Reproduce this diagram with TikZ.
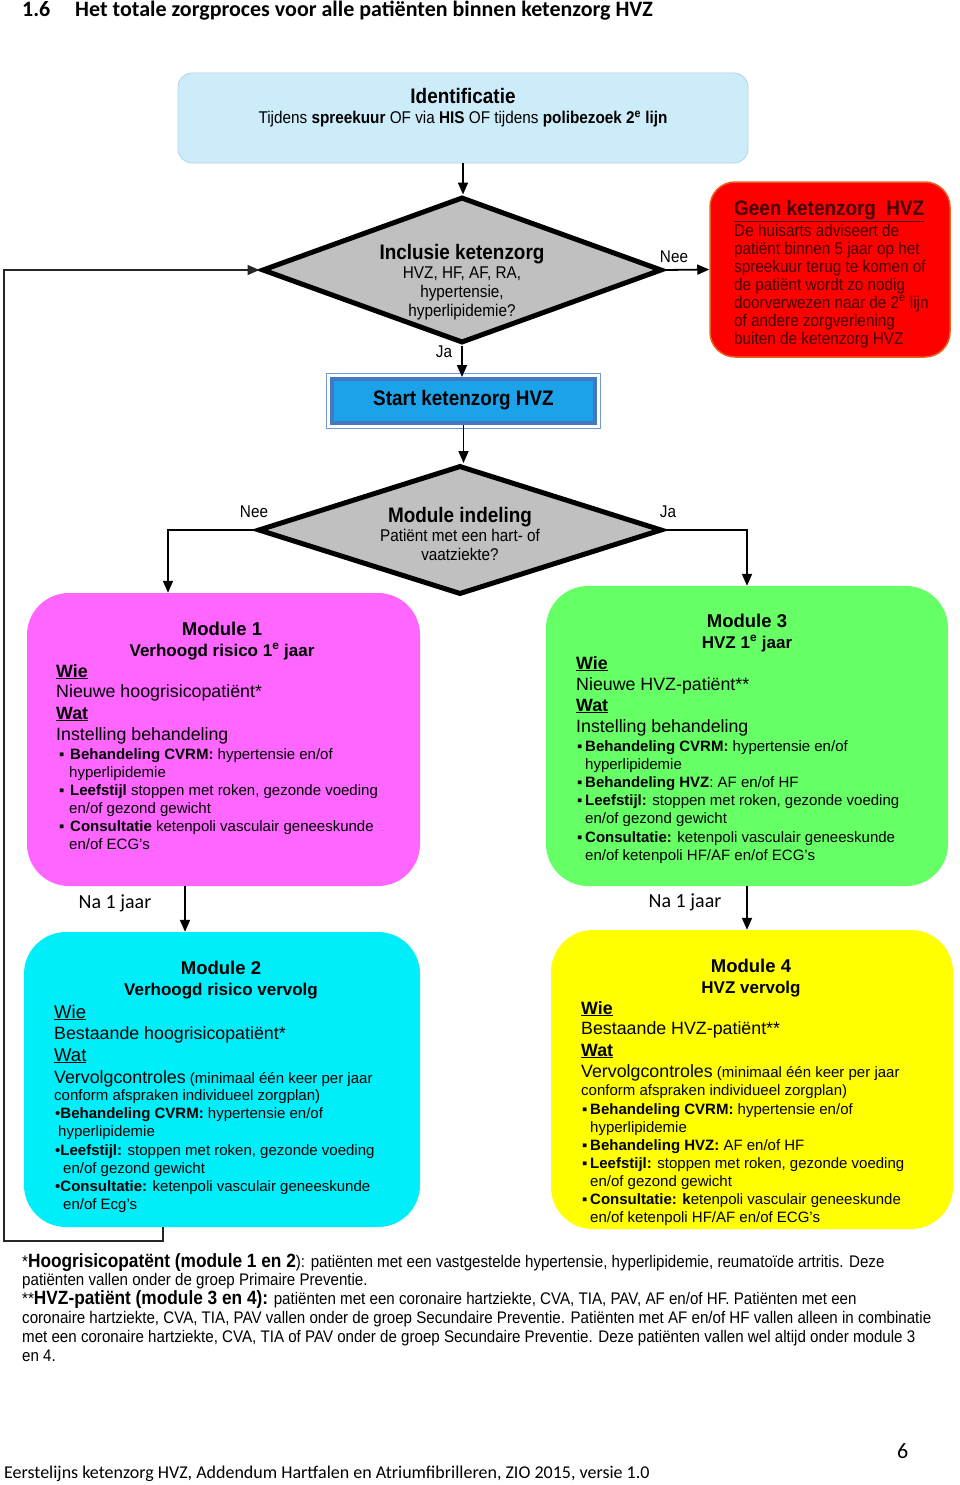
\documentclass[tikz,border=0pt]{standalone}
\usepackage{fontspec}
\setmainfont{Liberation Sans}
\newfontfamily\narrowfont[FakeStretch=0.9]{Liberation Sans}
\newfontfamily\calfont{Carlito}
\usetikzlibrary{shapes.geometric,arrows.meta}
\definecolor{idblue}{RGB}{205,236,250}
\definecolor{idline}{RGB}{180,212,234}
\definecolor{diagray}{RGB}{192,192,192}
\definecolor{geenred}{RGB}{255,0,0}
\definecolor{geenline}{RGB}{236,96,30}
\definecolor{geentext}{RGB}{70,0,0}
\definecolor{startout}{RGB}{110,155,215}
\definecolor{startband}{RGB}{68,120,192}
\definecolor{startin}{RGB}{28,162,232}
\definecolor{modone}{RGB}{255,102,255}
\definecolor{modtwo}{RGB}{0,238,250}
\definecolor{modthree}{RGB}{102,255,102}
\definecolor{modfour}{RGB}{255,255,0}
\newcommand{\grt}[1]{{\fontsize{17.8}{18}\selectfont #1}}
\newcommand{\itmsq}[2]{\hspace*{#1}\makebox[#2][l]{▪}}
\newcommand{\itmdt}[1]{\hspace*{#1}•}
\newcommand{\hng}[1]{\hspace*{#1}}
\begin{document}
\begin{tikzpicture}[x=1pt,y=-1pt,
      every node/.style={inner sep=0pt},
      arr/.style={line width=1.8pt,-{Triangle[length=12pt,width=10pt]}},
      looparr/.style={line width=1.4pt,draw=black!85,-{Triangle[length=12pt,width=10pt]}},
      dia/.style={diamond,draw=black,line width=5pt,fill=diagray},
      modbox/.style={rounded corners=42pt},
      ntext/.style={align=center,anchor=base,font=\narrowfont\fontsize{17}{19}\selectfont},
      head/.style={align=center,anchor=base,font=\bfseries\fontsize{17}{21}\selectfont},
      body/.style={align=left,anchor=base west,font=\fontsize{15}{18}\selectfont},
      lbl/.style={anchor=base,font=\narrowfont\fontsize{17}{19}\selectfont},
      nalbl/.style={anchor=base,font=\calfont\fontsize{20}{20}\selectfont}]
      \useasboundingbox[fill=white] (0,0) rectangle (960,1485);
      \node[anchor=base west,font=\calfont\bfseries\fontsize{22}{22}\selectfont] (secnr) at (22,17) {1.6};
      \node[anchor=base west,font=\calfont\bfseries\fontsize{22}{22}\selectfont] (sectitle) at (75,17) {Het totale zorgproces voor alle patiënten binnen ketenzorg HVZ};
      \node[draw=idline,fill=idblue,line width=0.8pt,rounded corners=14pt,minimum width=570pt,minimum height=90pt] (ident) at (463,118) {};
      \node[ntext,font=\narrowfont\fontsize{17}{20}\selectfont] (identt) at (463,124) {{\fontsize{21}{21}\selectfont\bfseries Identificatie}\\
        Tijdens \textbf{spreekuur} OF via \textbf{HIS} OF tijdens \textbf{polibezoek 2\textsuperscript{e} lijn}};
      \node[dia,minimum width=400pt,minimum height=146pt] (incl) at (462,270) {};
      \node[ntext] (inclt) at (462,316) {{\fontsize{21}{21}\selectfont\bfseries Inclusie ketenzorg}\\
        HVZ, HF, AF, RA,\\ hypertensie,\\ hyperlipidemie?};
      \node[draw=geenline,line width=1.5pt,fill=geenred,rounded corners=25pt,minimum width=240pt,minimum height=175pt] (geen) at (830,269.5) {};
      \node[anchor=base west,align=left,text=geentext,font=\narrowfont\fontsize{17}{18}\selectfont] (geent) at (734,344) {{\fontsize{21}{21}\selectfont\bfseries\underline{Geen ketenzorg\ \ HVZ}}\\[1pt]
        De huisarts adviseert de\\
        patiënt binnen 5 jaar op het\\
        spreekuur terug te komen of\\
        de patiënt wordt zo nodig\\
        doorverwezen naar de 2\textsuperscript{e} lijn\\
        of andere zorgverlening\\
        buiten de ketenzorg HVZ};
      \node[draw=startband,line width=4pt,fill=startin,minimum width=263pt,minimum height=44pt] (start) at (463.5,401) {};
      \draw[startout,line width=1.5pt] ([shift={(-3.5pt,3.5pt)}]start.north west) rectangle ([shift={(3.5pt,-3.5pt)}]start.south east);
      \node[anchor=base,font=\narrowfont\bfseries\fontsize{21}{21}\selectfont] (startt) at (463.5,405) {Start ketenzorg HVZ};
      \node[dia,minimum width=404pt,minimum height=129pt] (indel) at (460,530) {};
      \node[ntext] (indelt) at (460,560) {{\fontsize{21}{21}\selectfont\bfseries Module indeling}\\
        Patiënt met een hart- of\\ vaatziekte?};
      \node[modbox,fill=modone,minimum width=393pt,minimum height=293pt] (m1) at (223.5,739.5) {};
      \node[modbox,fill=modthree,minimum width=402pt,minimum height=300pt] (m3) at (747,736) {};
      \node[modbox,fill=modtwo,minimum width=396pt,minimum height=295pt] (m2) at (222,1079.5) {};
      \node[modbox,fill=modfour,minimum width=402pt,minimum height=299pt] (m4) at (752,1079.5) {};
      \node[head] (m1h) at (222,656) {{\fontsize{18.5}{21}\selectfont Module 1}\\ Verhoogd risico 1\textsuperscript{e} jaar};
      \node[body] (m1b) at (56,849) {\grt{\underline{\textbf{Wie}}}\\[2pt]
        \grt{Nieuwe hoogrisicopatiënt*}\\[4pt]
        \grt{\underline{\textbf{Wat}}}\\[3pt]
        \grt{Instelling behandeling}\\[1pt]
        \itmsq{3pt}{11pt}\textbf{Behandeling CVRM:} hypertensie en/of\\
        \hng{13pt}hyperlipidemie\\
        \itmsq{3pt}{11pt}\textbf{Leefstijl} stoppen met roken, gezonde voeding\\
        \hng{13pt}en/of gezond gewicht\\
        \itmsq{3pt}{11pt}\textbf{Consultatie} ketenpoli vasculair geneeskunde\\
        \hng{13pt}en/of ECG’s};
      \node[head] (m3h) at (747,648) {{\fontsize{18.5}{21}\selectfont Module 3}\\ HVZ 1\textsuperscript{e} jaar};
      \node[body] (m3b) at (576,860) {\grt{\underline{\textbf{Wie}}}\\[3pt]
        \grt{Nieuwe HVZ-patiënt**}\\[3pt]
        \grt{\underline{\textbf{Wat}}}\\[3pt]
        \grt{Instelling behandeling}\\[1pt]
        \itmsq{1pt}{8pt}\textbf{Behandeling CVRM:} hypertensie en/of\\
        \hng{9pt}hyperlipidemie\\
        \itmsq{1pt}{8pt}\textbf{Behandeling HVZ}: AF en/of HF\\
        \itmsq{1pt}{8pt}\textbf{Leefstijl:} stoppen met roken, gezonde voeding\\
        \hng{9pt}en/of gezond gewicht\\[1pt]
        \itmsq{1pt}{8pt}\textbf{Consultatie:} ketenpoli vasculair geneeskunde\\
        \hng{9pt}en/of ketenpoli HF/AF en/of ECG’s};
      \node[head] (m2h) at (221,995) {{\fontsize{18.5}{21}\selectfont Module 2}\\ Verhoogd risico vervolg};
      \node[body] (m2b) at (54,1209) {{\fontsize{18.5}{18}\selectfont\underline{Wie}}\\[3pt]
        \grt{Bestaande hoogrisicopatiënt*}\\[4pt]
        {\fontsize{18.5}{18}\selectfont\underline{Wat}}\\[4pt]
        \grt{Vervolgcontroles} (minimaal één keer per jaar\\[-1pt]
        conform afspraken individueel zorgplan)\\
        \itmdt{1pt}\textbf{Behandeling CVRM:} hypertensie en/of\\
        \hng{4pt}hyperlipidemie\\[1pt]
        \itmdt{1pt}\textbf{Leefstijl:} stoppen met roken, gezonde voeding\\
        \hng{9pt}en/of gezond gewicht\\
        \itmdt{1pt}\textbf{Consultatie:} ketenpoli vasculair geneeskunde\\
        \hng{9pt}en/of Ecg’s};
      \node[head] (m4h) at (751,993) {{\fontsize{18.5}{21}\selectfont Module 4}\\ HVZ vervolg};
      \node[body] (m4b) at (581,1222) {\grt{\underline{\textbf{Wie}}}\\[2pt]
        \grt{Bestaande HVZ-patiënt**}\\[4pt]
        \grt{\underline{\textbf{Wat}}}\\[3pt]
        \grt{Vervolgcontroles} (minimaal één keer per jaar\\
        conform afspraken individueel zorgplan)\\[1pt]
        \itmsq{1pt}{8pt}\textbf{Behandeling CVRM:} hypertensie en/of\\
        \hng{9pt}hyperlipidemie\\
        \itmsq{1pt}{8pt}\textbf{Behandeling HVZ:} AF en/of HF\\
        \itmsq{1pt}{8pt}\textbf{Leefstijl:} stoppen met roken, gezonde voeding\\
        \hng{9pt}en/of gezond gewicht\\
        \itmsq{1pt}{8pt}\textbf{Consultatie: k}etenpoli vasculair geneeskunde\\
        \hng{9pt}en/of ketenpoli HF/AF en/of ECG’s};
      \coordinate (neeturn) at (168,530);
      \coordinate (na1) at (185,886);
      \coordinate (back) at (163,1241);
      \coordinate (backl) at (4,1241);
      \draw[arr] (ident.south) -- (ident.south |- incl.north);
      \draw[arr] (incl.east) -- (geen.west);
      \draw[arr] (incl.south) -- (incl.south |- start.north);
      \draw[arr] (start.south) -- (start.south |- indel.north);
      \draw[arr] (indel.west) -| (m1.north -| neeturn);
      \draw[arr] (indel.east) -| (m3.north);
      \draw[arr] (m1.south -| na1) -- (m2.north -| na1);
      \draw[arr] (m3.south) -- (m4.north -| m3.south);
      \draw[looparr] (m2.south -| back) -- (back) -- (backl) |- (incl.west);
      \node[lbl] (nee1) at (674,262) {Nee};
      \node[lbl] (ja1) at (444,357) {Ja};
      \node[lbl] (nee2) at (254,517) {Nee};
      \node[lbl] (ja2) at (668,517) {Ja};
      \node[nalbl] (na1l) at (115,908) {Na 1 jaar};
      \node[nalbl] (na2l) at (685,907) {Na 1 jaar};
      \node[anchor=base west,align=left,font=\narrowfont\fontsize{16.8}{18.8}\selectfont] (notes) at (22,1361) {*{\fontsize{19.2}{18}\selectfont\bfseries Hoogrisicopatënt (module 1 en 2}): patiënten met een vastgestelde hypertensie, hyperlipidemie, reumatoïde artritis. Deze\\
        patiënten vallen onder de groep Primaire Preventie.\\
        **{\fontsize{19.2}{18}\selectfont\bfseries HVZ-patiënt (module 3 en 4):} patiënten met een coronaire hartziekte, CVA, TIA, PAV, AF en/of HF. Patiënten met een\\
        coronaire hartziekte, CVA, TIA, PAV vallen onder de groep Secundaire Preventie. Patiënten met AF en/of HF vallen alleen in combinatie\\
        met een coronaire hartziekte, CVA, TIA of PAV onder de groep Secundaire Preventie. Deze patiënten vallen wel altijd onder module 3\\
        en 4.};
      \node[anchor=base west,font=\calfont\fontsize{22}{22}\selectfont] (pagenr) at (897,1458) {6};
      \node[anchor=base west,font=\calfont\fontsize{18}{18}\selectfont] (footer) at (4,1478) {Eerstelijns ketenzorg HVZ, Addendum Hartfalen en Atriumfibrilleren, ZIO 2015, versie 1.0};
     \end{tikzpicture}
\end{document}
